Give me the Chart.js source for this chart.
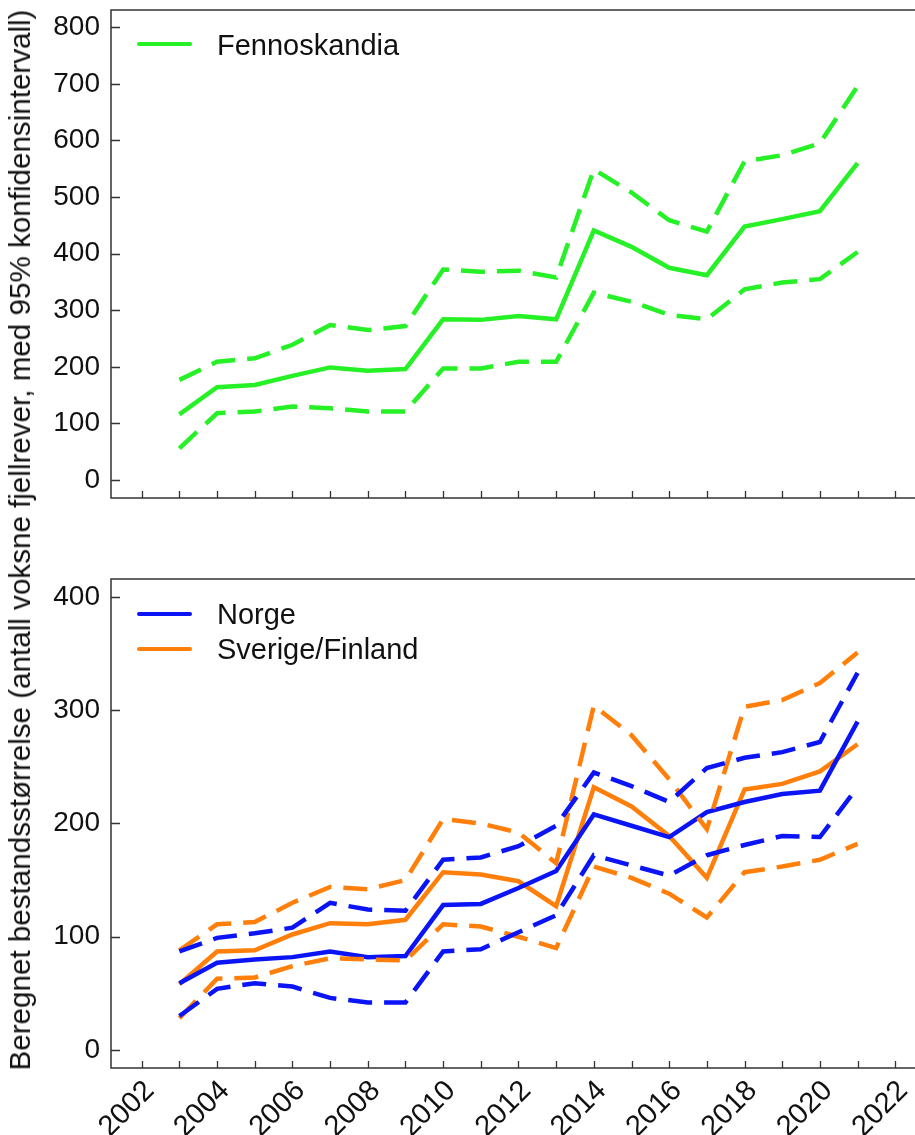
<!DOCTYPE html>
<html><head><meta charset="utf-8">
<script src="https://cdn.jsdelivr.net/npm/chart.js@4.4.1/dist/chart.umd.min.js"></script>
<style>
html,body{margin:0;padding:0;width:915px;height:1135px;overflow:hidden;background:#fff;font-family:"Liberation Sans",Arial,sans-serif;}
#c1{position:absolute;left:0;top:0;}
#c2{position:absolute;left:0;top:540px;}
.ytitle{position:absolute;left:20px;top:540px;transform:translate(-50%,-50%) rotate(-90deg);white-space:nowrap;font-size:29.6px;line-height:32px;color:#111;}
.ln{position:absolute;width:55px;height:4px;border-radius:2px;}
.lt{position:absolute;font-size:29px;line-height:32px;color:#111;white-space:nowrap;}
</style></head>
<body>
<canvas id="c1" width="935" height="540"></canvas>
<canvas id="c2" width="935" height="595"></canvas>
<div class="ytitle">Beregnet bestandsstørrelse (antall voksne fjellrever, med 95% konfidensintervall)</div>
<div class="ln" style="left:137px;top:42px;background:#26f026"></div>
<div class="lt" style="left:217px;top:29px">Fennoskandia</div>
<div class="ln" style="left:137px;top:612px;background:#0a14f5"></div>
<div class="lt" style="left:217px;top:598px">Norge</div>
<div class="ln" style="left:137px;top:647px;background:#ff7f0a"></div>
<div class="lt" style="left:217px;top:633px">Sverige/Finland</div>
<script>
const years = [2003,2004,2005,2006,2007,2008,2009,2010,2011,2012,2013,2014,2015,2016,2017,2018,2019,2020,2021];
const xTickYears = [2002,2003,2004,2005,2006,2007,2008,2009,2010,2011,2012,2013,2014,2015,2016,2017,2018,2019,2020,2021,2022];
const yTicksTop = [0,100,200,300,400,500,600,700,800];
const yTicksBottom = [0,100,200,300,400];

const fennoMid  = [116,164,168,184,199,193,196,284,283,290,284,441,412,375,362,448,461,475,560];
const fennoHigh = [177,209,215,239,274,265,272,372,368,370,358,549,508,459,439,563,574,595,696];
const fennoLow  = [56,118,121,130,127,121,121,197,197,209,209,331,315,292,284,337,349,355,403];

const norgeMid  = [59,77,80,82,87,82,83,128,129,143,158,208,198,188,210,219,226,229,290];
const norgeHigh = [87,99,103,108,130,124,123,168,170,180,198,245,233,219,249,258,263,272,333];
const norgeLow  = [30,54,59,56,46,42,42,87,89,104,119,172,163,154,172,181,189,188,232];

const sveMid  = [58,87,88,102,112,111,115,157,155,149,127,232,215,189,152,230,235,246,270];
const sveHigh = [88,111,113,130,144,142,150,204,200,192,165,304,278,239,195,303,309,324,351];
const sveLow  = [28,63,64,74,81,80,79,111,109,100,90,162,152,138,117,157,162,168,182];

const GREEN = '#26f026', BLUE = '#0a14f5', ORANGE = '#ff7f0a';
const pts = arr => arr.map((v,i)=>({x:years[i], y:v}));
const solid = (data,color) => ({data:pts(data), borderColor:color, borderWidth:4.5, pointRadius:0, fill:false, tension:0});
const dashed = (data,color) => ({data:pts(data), borderColor:color, borderWidth:4.5, borderDash:[24,12], pointRadius:0, fill:false, tension:0});

const framePlugin = {
  id:'frame',
  afterDraw(chart){
    const {ctx, chartArea:a, scales} = chart;
    ctx.save();
    ctx.strokeStyle = '#333';
    ctx.lineWidth = 1.5;
    ctx.strokeRect(a.left, a.top, a.right-a.left, a.bottom-a.top);
    ctx.beginPath();
    scales.x.ticks.forEach(t=>{ const px = Math.round(scales.x.getPixelForValue(t.value))+0.5; ctx.moveTo(px,a.bottom); ctx.lineTo(px,a.bottom-7); });
    scales.y.ticks.forEach(t=>{ const py = Math.round(scales.y.getPixelForValue(t.value))+0.5; ctx.moveTo(a.left,py); ctx.lineTo(a.left+9,py); });
    ctx.lineWidth = 1.3;
    ctx.stroke();
    ctx.restore();
  }
};

const tickFont = {family:'"Liberation Sans", Arial, sans-serif', size:28};
const xFont = {family:'"Liberation Sans", Arial, sans-serif', size:29};

function makeChart(id, datasets, yMin, yMax, yTicks, showX, xHeight, padTop){
  return new Chart(document.getElementById(id), {
    type:'line',
    data:{datasets},
    plugins:[framePlugin],
    options:{
      responsive:false, animation:false, devicePixelRatio:1,
      layout:{padding:{top:padTop, right:10, left:0, bottom:0}},
      plugins:{legend:{display:false}, tooltip:{enabled:false}},
      scales:{
        x:{
          type:'linear', min:2001.185, max:2022.79,
          afterBuildTicks:s=>{ s.ticks = xTickYears.map(v=>({value:v})); },
          afterFit:s=>{ s.height = xHeight; s.paddingLeft = 0; s.paddingRight = 0; },
          grid:{display:false, drawTicks:false},
          border:{display:false},
          ticks:{display:showX, autoSkip:false, minRotation:45, maxRotation:45, font:xFont, color:'#111', padding:6, labelOffset:8,
                 callback:v => (v % 2 === 0 ? String(v) : '')}
        },
        y:{
          type:'linear', min:yMin, max:yMax,
          afterBuildTicks:s=>{ s.ticks = yTicks.map(v=>({value:v})); },
          afterFit:s=>{ s.width = 111; s.paddingTop = 0; s.paddingBottom = 0; },
          grid:{display:false, drawTicks:false},
          border:{display:false},
          ticks:{font:tickFont, color:'#111', padding:11, callback:v=>String(v)}
        }
      }
    }
  });
}

makeChart('c1', [
  dashed(fennoHigh, GREEN), dashed(fennoLow, GREEN), solid(fennoMid, GREEN)
], -31.8, 830.6, yTicksTop, false, 42, 10);

makeChart('c2', [
  dashed(norgeHigh, BLUE), dashed(norgeLow, BLUE),
  dashed(sveHigh, ORANGE), dashed(sveLow, ORANGE),
  solid(norgeMid, BLUE), solid(sveMid, ORANGE)
], -15.9, 415.9, yTicksBottom, true, 67, 39);
</script>
</body></html>
